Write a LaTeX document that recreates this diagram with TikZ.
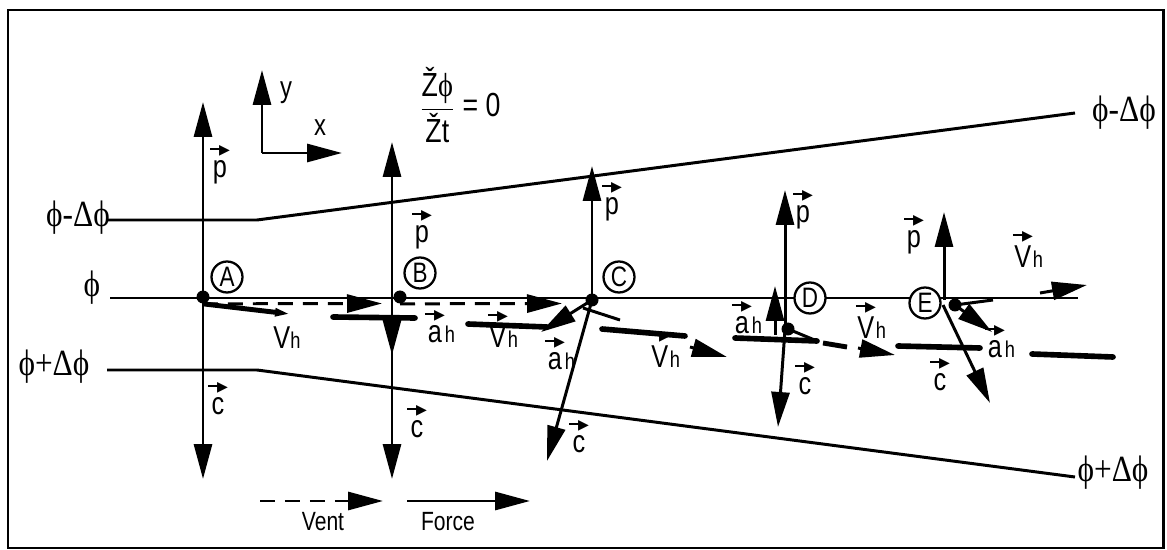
\documentclass[tikz,border=0pt]{standalone}
\usepackage{amsmath}
\usepackage{fontspec}
\setmainfont{Liberation Sans}[FakeStretch=0.8]
\newfontfamily\phifont{Liberation Serif}[FakeStretch=0.85]
\newfontfamily\arrowfont{DejaVu Sans}
\usetikzlibrary{arrows.meta, positioning}
\tikzset{
    big tip/.style = {-{Triangle[length=0.7cm, width=0.36cm]}},
    force/.style = {draw, line width=1.7pt, big tip},
    vent/.style = {force, dash pattern=on 0.3cm off 0.2cm},
    thick bar/.style = {draw, line width=3.2pt, line cap=round},
    phi line/.style = {draw, line width=1.7pt},
    dotnode/.style = {circle, fill, inner sep=0pt, minimum size=0.26cm},
    lab/.style = {inner sep=0pt, font=\fontsize{18}{20}\selectfont},
    axis lab/.style = {inner sep=0pt, font=\fontsize{17}{19}\selectfont},
    phi lab/.style = {inner sep=0pt, font=\phifont\fontsize{21}{23}\selectfont},
    letter/.style = {draw, circle, line width=1.3pt, inner sep=0pt, minimum size=0.62cm, font=\fontsize{16}{16}\selectfont},
    legend lab/.style = {inner sep=0pt, font=\fontsize{15}{17}\selectfont},
}
\newcommand\vecarr{{\arrowfont\fontsize{8}{8}\selectfont\rule[0.3em]{0.9em}{0.16em}\kern-0.25em▶}}
\newcommand\vv[1]{$\overset{\text{\vecarr}}{\text{#1}}$}
\newcommand\hsub{{\fontsize{13}{13}\selectfont h}}

\begin{document}
\begin{tikzpicture}[x=0.02cm, y=-0.02cm]
\useasboundingbox (0,0) rectangle (1167,550);
\draw[line width=1.7pt] (8,10) rectangle (1163,548);

\coordinate (u1) at (107,220);
\coordinate (u2) at (257,220);
\coordinate (u3) at (1075,113);
\coordinate (m1) at (110,298);
\coordinate (m2) at (1078,298);
\coordinate (l1) at (107,370);
\coordinate (l2) at (257,370);
\coordinate (l3) at (1075,477);
\node[phi lab] (ulab) at (78,218) {ϕ-Δϕ};
\node[phi lab] (urlab) at (1124,113) {ϕ-Δϕ};
\node[phi lab] (mlab) at (92,288) {ϕ};
\node[phi lab] (llab) at (54,367) {ϕ+Δϕ};
\node[phi lab] (lrlab) at (1113,473) {ϕ+Δϕ};
\draw[phi line] (u1) -- (u2) -- (u3);
\draw[phi line] (m1) -- (m2);
\draw[phi line] (l1) -- (l2) -- (l3);

\coordinate (o) at (262,153);
\coordinate (ox) at (342,153);
\coordinate (oy) at (262,70);
\draw[force] (o) -- (oy);
\draw[force] (o) -- (ox);
\node[axis lab] (ylab) at (286,93) {y};
\node[axis lab] (xlab) at (320,128) {x};
\node[lab, font=\fontsize{19}{21}\selectfont] (dphi) at (460,105) {$\dfrac{\text{Ž{\phifont ϕ}}}{\text{Žt}}$ = 0};

\node[dotnode] (A) at (203,297) {};
\coordinate (Ap) at (203,102);
\coordinate (Ac) at (203,479);
\coordinate (Av) at (382,303.5);
\coordinate (Avh) at (290,314);
\draw[force] (A.center) -- (Ap);
\draw[force] (A.center) -- (Ac);
\draw[vent] (A.south) -- (Av);
\draw[line width=2.8pt, -{Triangle[length=0.3cm, width=0.15cm]}] (A.south) -- (Avh);
\node[letter] (circA) at (227,277) {A};
\node[lab] (pA) at (220,163) {\vv{p}};
\node[lab] (cA) at (218,397) {\vv{c}};
\node[lab] (vA) at (287,338) {V\hsub};

\node[dotnode] (B) at (400,297) {};
\coordinate (Bo) at (392,297);
\coordinate (Bp) at (392,142);
\coordinate (Bc) at (392,479);
\coordinate (Ba) at (392,355);
\coordinate (Bv) at (562,303.5);
\coordinate (Bb1) at (333,317);
\coordinate (Bb2) at (415,318);
\draw[force] (Bo) -- (Bp);
\draw[force] (Bo) -- (Bc);
\draw[force] (Bo) -- (Ba);
\draw[vent] (B.south) -- (Bv);
\draw[thick bar] (Bb1) -- (Bb2);
\node[letter] (circB) at (420,273) {B};
\node[lab] (pB) at (422,228) {\vv{p}};
\node[lab] (cB) at (417,420) {\vv{c}};
\node[lab] (aB) at (440,325) {\vv{a}\hsub};

\coordinate (BCb1) at (468,324);
\coordinate (BCb2) at (547,327);
\draw[thick bar] (BCb1) -- (BCb2);
\node[lab] (vB) at (503,328) {\vv{V}\hsub};

\node[dotnode] (C) at (592,300) {};
\coordinate (Cp) at (592,166);
\coordinate (Cc) at (547,461);
\coordinate (Ca) at (541,332);
\coordinate (Cs1) at (583,308);
\coordinate (Cs2) at (620,320);
\coordinate (Cb1) at (602,329);
\coordinate (Cb2) at (685,336);
\coordinate (Ct1) at (690,347);
\coordinate (Ct2) at (727,357);
\draw[force] (C.center) -- (Cp);
\draw[force] (C.center) -- (Cc);
\draw[force] (C.center) -- (Ca);
\draw[phi line] (Cs1) -- (Cs2);
\draw[thick bar] (Cb1) -- (Cb2);
\draw[force] (Ct1) -- (Ct2);
\node[letter] (circC) at (619,277) {C};
\node[lab] (pC) at (612,200) {\vv{p}};
\node[lab] (cC) at (579,435) {\vv{c}};
\node[lab] (aC) at (560,352) {\vv{a}\hsub};
\node[lab] (vC) at (665,348) {\vv{V}\hsub};

\node[dotnode] (D) at (788,329) {};
\coordinate (Do) at (785,330);
\coordinate (Dp) at (785,190);
\coordinate (Dc) at (778,427);
\coordinate (Du0) at (775,335);
\coordinate (Du) at (775,286);
\coordinate (Db1) at (735,338);
\coordinate (Db2) at (817,341);
\coordinate (Dd1) at (823,343);
\coordinate (Dd2) at (847,347);
\coordinate (Dt1) at (858,348);
\coordinate (Dt2) at (895,355);
\draw[force] (Do) -- (Dp);
\draw[force] (Do) -- (Dc);
\draw[force] (Du0) -- (Du);
\draw[thick bar] (Db1) -- (Db2);
\draw[phi line] (D.center) -- (Db2);
\draw[line width=2.8pt] (Dd1) -- (Dd2);
\draw[force] (Dt1) -- (Dt2);
\node[letter, fill=white] (circD) at (810,298) {D};
\node[lab] (pD) at (803,208) {\vv{p}};
\node[lab] (cD) at (805,377) {\vv{c}};
\node[lab] (aD) at (747,316) {\vv{a}\hsub};
\node[lab] (vD) at (871,319) {\vv{V}\hsub};

\coordinate (Eo) at (944,300);
\coordinate (Ep) at (944,212);
\node[dotnode] (E) at (955,305) {};
\coordinate (Ee) at (993,300);
\coordinate (Ea) at (992,332);
\coordinate (Ec0) at (943,305);
\coordinate (Ec) at (990,403);
\coordinate (Eb1) at (898,346);
\coordinate (Eb2) at (980,348);
\coordinate (Eb3) at (1032,354);
\coordinate (Eb4) at (1113,357);
\coordinate (Et1) at (1040,293);
\coordinate (Et2) at (1087,285);
\draw[force] (Eo) -- (Ep);
\draw[force] (Ec0) -- (Ec);
\draw[force] (E.center) -- (Ea);
\draw[phi line] (E.center) -- (Ee);
\draw[thick bar] (Eb1) -- (Eb2);
\draw[thick bar] (Eb3) -- (Eb4);
\draw[force] (Et1) -- (Et2);
\node[letter, fill=white] (circE) at (925,303) {E};
\node[lab] (pE) at (914,233) {\vv{p}};
\node[lab] (vE) at (1028,248) {\vv{V}\hsub};
\node[lab] (aE) at (1000,340) {\vv{a}\hsub};
\node[lab] (cE) at (940,373) {\vv{c}};

\coordinate (lv1) at (260,501);
\coordinate (lv2) at (383,501);
\coordinate (lf1) at (407,501);
\coordinate (lf2) at (530,501);
\draw[vent] (lv1) -- (lv2);
\draw[force] (lf1) -- (lf2);
\node[legend lab] (vent) at (323,522) {Vent};
\node[legend lab] (forcelab) at (448,522) {Force};
\end{tikzpicture}
\end{document}
